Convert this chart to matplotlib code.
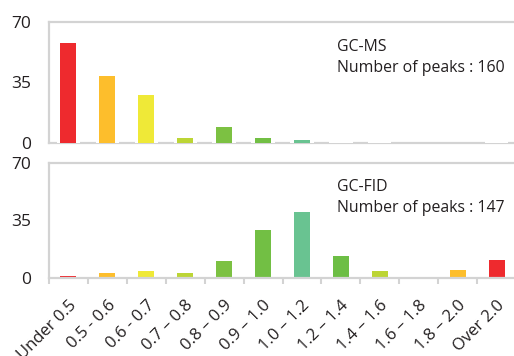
import matplotlib.pyplot as plt
import numpy as np

plt.rcParams["font.family"] = ["Open Sans", "DejaVu Sans"]

categories = ["Under 0.5", "0.5 - 0.6", "0.6 - 0.7", "0.7 \u2013 0.8", "0.8 \u2013 0.9",
              "0.9 \u2013 1.0", "1.0 \u2013 1.2", "1.2 \u2013 1.4", "1.4 \u2013 1.6",
              "1.6 \u2013 1.8", "1.8 \u2013 2.0", "Over 2.0"]
gcms_counts = [58, 39, 28, 3, 9, 3, 2, 0, 0, np.nan, np.nan, 0]
gcfid_counts = [1, 3, 4, 3, 10, 29, 40, 13, 4, 0, 4.5, 11]
bar_colors = ["#EE2A2E", "#FDBE2C", "#EFE937", "#BCD535", "#7CC142", "#72BF44",
              "#69C391", "#6DBE45", "#BCD535", "#EFE937", "#FDBE2C", "#EE2A2E"]
panels = [("GC-MS", 160, gcms_counts), ("GC-FID", 147, gcfid_counts)]

SPINE = "#D3D3D3"
TEXT = "#231F20"

fig = plt.figure(figsize=(5.14, 3.56), dpi=100)
ax_top = fig.add_axes([49 / 514, 213 / 356, 467 / 514, 121 / 356])
ax_bot = fig.add_axes([49 / 514, 78.3 / 356, 467 / 514, 114.4 / 356])

x = np.arange(len(categories))
for ax, (name, n_peaks, counts) in zip([ax_top, ax_bot], panels):
    ax.bar(x, counts, width=0.41, color=bar_colors, linewidth=0, zorder=3)
    ax.set_xlim(-0.5, len(categories) - 0.5)
    ax.set_ylim(0, 70)
    ax.set_yticks([0, 35, 70])
    ax.tick_params(axis="y", length=0, pad=13, labelsize=12.5, labelcolor=TEXT)
    ax.spines["right"].set_visible(False)
    for side in ["left", "top", "bottom"]:
        ax.spines[side].set_color(SPINE)
        ax.spines[side].set_linewidth(1.6)
    ax.text(0.617, 0.86, f"{name}\nNumber of peaks : {n_peaks}", transform=ax.transAxes,
            ha="left", va="top", fontsize=11.4, color=TEXT, linespacing=1.4)

# top panel: the baseline is broken by white gaps around each bar
ax_top.spines["bottom"].set_zorder(1)
gap_cover = [0 if not np.isnan(v) else np.nan for v in gcms_counts]
ax_top.bar(x, gap_cover, width=0.6, color="white", edgecolor="white", linewidth=3, zorder=2)
ax_top.set_xticks([])

# bottom panel: boundary ticks and rotated labels
ax_bot.spines["bottom"].set_zorder(4)
ax_bot.set_xticks(x)
ax_bot.set_xticklabels(categories, rotation=45, ha="right", rotation_mode="anchor",
                       fontsize=12, color=TEXT)
ax_bot.set_xticks(np.arange(len(categories) + 1) - 0.5, minor=True)
ax_bot.tick_params(axis="x", which="major", length=0, pad=14)
ax_bot.tick_params(axis="x", which="minor", length=4.5, width=1.5, color=SPINE)

fig.savefig("out.png", dpi=100, facecolor="white")
